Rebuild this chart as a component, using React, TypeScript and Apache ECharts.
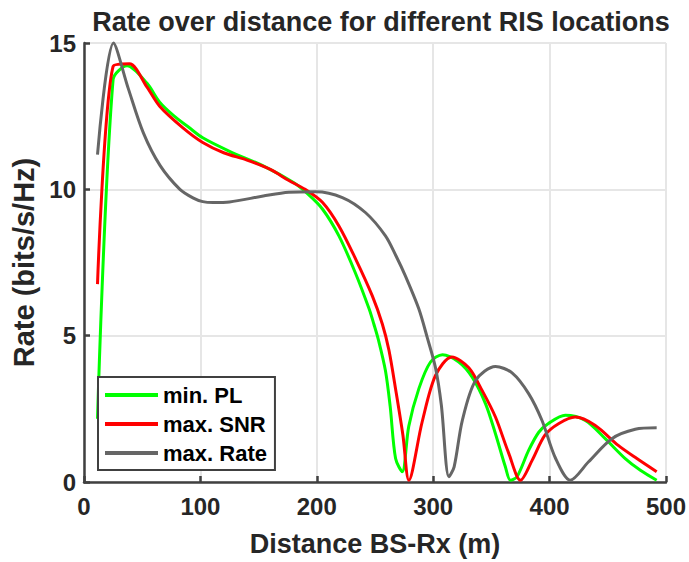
import React, { useEffect, useRef } from "react";
import * as echarts from "echarts";

const seriesNames = ["min. PL", "max. SNR", "max. Rate"];
const seriesColors = ["#00ff00", "#ff0000", "#666666"];

const minPL: number[][] = [
  [11.6, 2.16], [25, 13.75], [37, 14.22], [54, 13.63], [65, 12.98], [77, 12.52],
  [90, 12.12], [102, 11.76], [125, 11.3], [154, 10.8], [180, 10.23], [192, 9.85],
  [205, 9.32], [219, 8.41], [233, 7.16], [245, 5.91], [249, 5.4], [253, 4.85],
  [259, 3.8], [263, 2.6], [267.7, 0.8], [273.4, 0.35], [279, 1.9], [287.7, 3.19],
  [297.7, 4.1], [308, 4.35], [322, 4.1], [333.5, 3.58], [345, 2.67], [353.5, 1.65],
  [362, 0.52], [366.4, 0.06], [372, 0.18], [382, 1.08], [390.7, 1.7], [399, 2.0],
  [413.5, 2.28], [430.7, 2.1], [447.8, 1.48], [465, 0.8], [478, 0.4], [492, 0.06],
];

const maxSNR: number[][] = [
  [11.6, 6.76], [25, 14.2], [39, 14.29], [54, 13.5], [65, 12.84], [85, 12.1],
  [102, 11.6], [120, 11.25], [140, 11.0], [160, 10.68], [176, 10.3], [190, 10.0],
  [205, 9.55], [219, 8.75], [233.5, 7.61], [247.7, 6.36], [256.3, 5.4], [262, 4.5],
  [268, 3.1], [274, 1.6], [279.1, 0.06], [290.5, 2.05], [302, 3.64], [316, 4.27],
  [330.6, 3.9], [342, 3.13], [353.5, 2.22], [365, 0.97], [375, 0.06], [385, 0.74],
  [396, 1.6], [408, 2.0], [422, 2.22], [439, 1.94], [459, 1.25], [475, 0.8], [492, 0.35],
];

const maxRate: number[][] = [
  [11.6, 11.19], [25.3, 15.0], [38, 13.45], [51, 11.93], [65.3, 10.82], [82.4, 10.0],
  [94, 9.7], [102, 9.58], [111, 9.55], [125, 9.57], [154, 9.77], [176, 9.9],
  [199, 9.92], [222, 9.72], [242, 9.2], [259, 8.41], [268, 7.73], [276, 7.05],
  [287.7, 5.91], [294.8, 4.95], [302, 3.9], [307, 2.63], [313.5, 0.18], [318, 0.52],
  [325, 2.1], [336.4, 3.47], [353.5, 3.95], [368, 3.72], [382, 3.02], [393.5, 2.1],
  [405, 0.82], [417.8, 0.06], [433.5, 0.69], [453.5, 1.48], [473.6, 1.8], [492, 1.85],
];

const seriesData = [minPL, maxSNR, maxRate];

const textColor = "#262626";
const axisColor = "#404040";
const font = "'Liberation Sans', Arial, Helvetica, sans-serif";

export default function App() {
  const ref = useRef<HTMLDivElement>(null);
  useEffect(() => {
    document.body.style.margin = "0";
    if (!ref.current) return;
    const chart = echarts.init(ref.current, undefined, { renderer: "svg" });
    chart.setOption({
      animation: false,
      backgroundColor: "#ffffff",
      textStyle: { fontFamily: font },
      title: {
        text: "Rate over distance for different RIS locations",
        left: 376,
        textAlign: "center",
        top: 3,
        textStyle: { fontFamily: font, fontWeight: "bold", fontSize: 27, color: textColor },
      },
      grid: { left: 84, right: 21, top: 43, bottom: 78.5, containLabel: false },
      legend: {
        orient: "vertical",
        left: 98,
        top: 377,
        data: seriesNames,
        icon: "rect",
        itemWidth: 53,
        itemHeight: 4,
        itemGap: 7,
        padding: [7, 8, 6, 7],
        backgroundColor: "#ffffff",
        borderColor: axisColor,
        borderWidth: 2,
        borderRadius: 0,
        textStyle: { fontFamily: font, fontWeight: "bold", fontSize: 22, lineHeight: 22, color: "#000" },
      },
      xAxis: {
        type: "value",
        min: 0,
        max: 500,
        interval: 100,
        name: "Distance BS-Rx (m)",
        nameLocation: "middle",
        nameGap: 48,
        nameTextStyle: { fontFamily: font, fontWeight: "bold", fontSize: 27, color: textColor },
        axisLine: { show: true, onZero: false, lineStyle: { color: axisColor, width: 2.5 } },
        axisTick: { show: true, inside: true, length: 6, lineStyle: { color: axisColor, width: 2.5 } },
        axisLabel: { margin: 12, fontFamily: font, fontWeight: "bold", fontSize: 24, color: textColor },
        splitLine: { show: true, lineStyle: { color: "#e6e6e6", width: 2 } },
      },
      yAxis: {
        type: "value",
        min: 0,
        max: 15,
        interval: 5,
        name: "Rate (bits/s/Hz)",
        nameLocation: "middle",
        nameGap: 42,
        nameTextStyle: { fontFamily: font, fontWeight: "bold", fontSize: 29, color: textColor },
        axisLine: { show: true, onZero: false, lineStyle: { color: axisColor, width: 2.5 } },
        axisTick: { show: true, inside: true, length: 6, lineStyle: { color: axisColor, width: 2.5 } },
        axisLabel: { margin: 8, fontFamily: font, fontWeight: "bold", fontSize: 24, color: textColor },
        splitLine: { show: true, lineStyle: { color: "#e6e6e6", width: 2 } },
      },
      series: seriesNames.map((name, i) => ({
        name,
        type: "line",
        data: seriesData[i],
        symbol: "none",
        smooth: 0.3,
        clip: false,
        color: seriesColors[i],
        lineStyle: { color: seriesColors[i], width: 3 },
        z: 2 + i,
      })),
    });
    return () => chart.dispose();
  }, []);
  return <div ref={ref} style={{ width: 689, height: 562 }} />;
}
